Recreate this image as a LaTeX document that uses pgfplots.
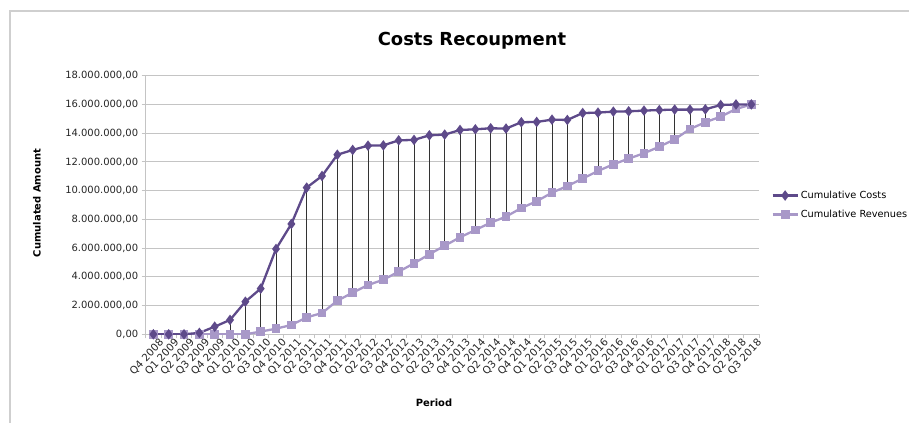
\documentclass[border=0pt]{standalone}
\usepackage{fontspec}
\setmainfont{DejaVu Sans}
\usepackage{pgfplots}
\pgfplotsset{compat=1.18}
\usepackage{pgfplotstable}
\definecolor{costc}{HTML}{5E4A8A}
\definecolor{revc}{HTML}{A898C8}
\definecolor{gridc}{HTML}{C4C4C4}
\definecolor{framec}{HTML}{CFCFCF}

\pgfplotstableread{
x cost rev
0 0 0
1 0 0
2 0 0
3 100000 0
4 530000 0
5 1000000 0
6 2270000 0
7 3180000 190000
8 5940000 390000
9 7680000 650000
10 10210000 1180000
11 11020000 1480000
12 12500000 2340000
13 12830000 2900000
14 13130000 3430000
15 13150000 3800000
16 13500000 4360000
17 13530000 4940000
18 13850000 5570000
19 13900000 6170000
20 14220000 6750000
21 14270000 7260000
22 14340000 7770000
23 14320000 8190000
24 14760000 8790000
25 14780000 9260000
26 14940000 9860000
27 14920000 10320000
28 15400000 10840000
29 15430000 11370000
30 15500000 11830000
31 15520000 12230000
32 15570000 12600000
33 15610000 13060000
34 15640000 13570000
35 15640000 14290000
36 15660000 14760000
37 15960000 15150000
38 16000000 15680000
39 16000000 16000000
}\datatable

\begin{document}
\begin{tikzpicture}
\useasboundingbox (0bp,0bp) rectangle (909bp,423bp);
\draw[framec, line width=1.3bp] (10bp,0bp) -- (10bp,412bp) -- (909bp,412bp);
\node[font=\bfseries\fontsize{18}{21}\selectfont] at (472bp,382bp) {Costs Recoupment};
\node[font=\bfseries\fontsize{10}{12}\selectfont, rotate=90] at (37bp,220bp) {Cumulated Amount};
\node[font=\bfseries\fontsize{10}{12}\selectfont] at (434bp,20bp) {Period};
\begin{axis}[
  at={(145.7bp,88.7bp)}, anchor=south west,
  scale only axis, width=613.3bp, height=258.6bp,
  xmin=-0.5, xmax=39.5, ymin=0, ymax=18000000,
  axis x line*=bottom, axis y line*=left,
  axis line style={gridc, line width=0.9bp},
  ymajorgrids, grid style={gridc, line width=0.9bp},
  ytick={0,2000000,4000000,6000000,8000000,10000000,12000000,14000000,16000000,18000000},
  scaled y ticks=false,
  yticklabel style={/pgf/number format/.cd, fixed, fixed zerofill, precision=2, 1000 sep={.}, dec sep={,}, assume math mode=true},
  tick label style={font=\fontsize{10}{12}\selectfont, text=black!85},
  xtick={0,...,39},
  xticklabels={Q4 2008,Q1 2009,Q2 2009,Q3 2009,Q4 2009,Q1 2010,Q2 2010,Q3 2010,Q4 2010,Q1 2011,Q2 2011,Q3 2011,Q4 2011,Q1 2012,Q2 2012,Q3 2012,Q4 2012,Q1 2013,Q2 2013,Q3 2013,Q4 2013,Q1 2014,Q2 2014,Q3 2014,Q4 2014,Q1 2015,Q2 2015,Q3 2015,Q4 2015,Q1 2016,Q2 2016,Q3 2016,Q4 2016,Q1 2017,Q2 2017,Q3 2017,Q4 2017,Q1 2018,Q2 2018,Q3 2018},
  x tick label style={rotate=47, anchor=east, inner sep=0pt, font=\fontsize{10.3}{12}\selectfont, xshift=4bp, yshift=-8bp},
  major x tick style={draw=none},
  minor xtick={-0.5,0.5,...,39.5},
  tick align=outside,
  major tick length=4bp, minor tick length=4bp,
  tick style={gridc, line width=0.9bp},
  legend style={draw=none, fill=none, at={(1.02,0.5)}, anchor=west, font=\fontsize{9.8}{11}\selectfont, row sep=6bp, inner sep=0pt},
  legend cell align=left,
  reverse legend,
  legend image code/.code={\draw[mark repeat=2,mark phase=2,#1] plot coordinates {(0bp,0bp)(12.5bp,0bp)(25bp,0bp)};},
]
\addplot[draw=none, mark=none, forget plot,
  error bars/.cd, y dir=plus, y explicit,
  error bar style={black!80, line width=0.8bp}, error mark=none]
  table[x=x, y=rev, y error expr=\thisrow{cost}-\thisrow{rev}] {\datatable};
\addplot[revc, line width=2.3bp, mark=square*, mark size=3.3bp, mark options={solid, fill=revc}]
  table[x=x, y=rev] {\datatable};
\addlegendentry{Cumulative Revenues}
\addplot[costc, line width=2.3bp, mark=diamond*, mark size=3.4bp, mark options={solid, fill=costc}]
  table[x=x, y=cost] {\datatable};
\addlegendentry{Cumulative Costs}
\end{axis}
\end{tikzpicture}
\end{document}
